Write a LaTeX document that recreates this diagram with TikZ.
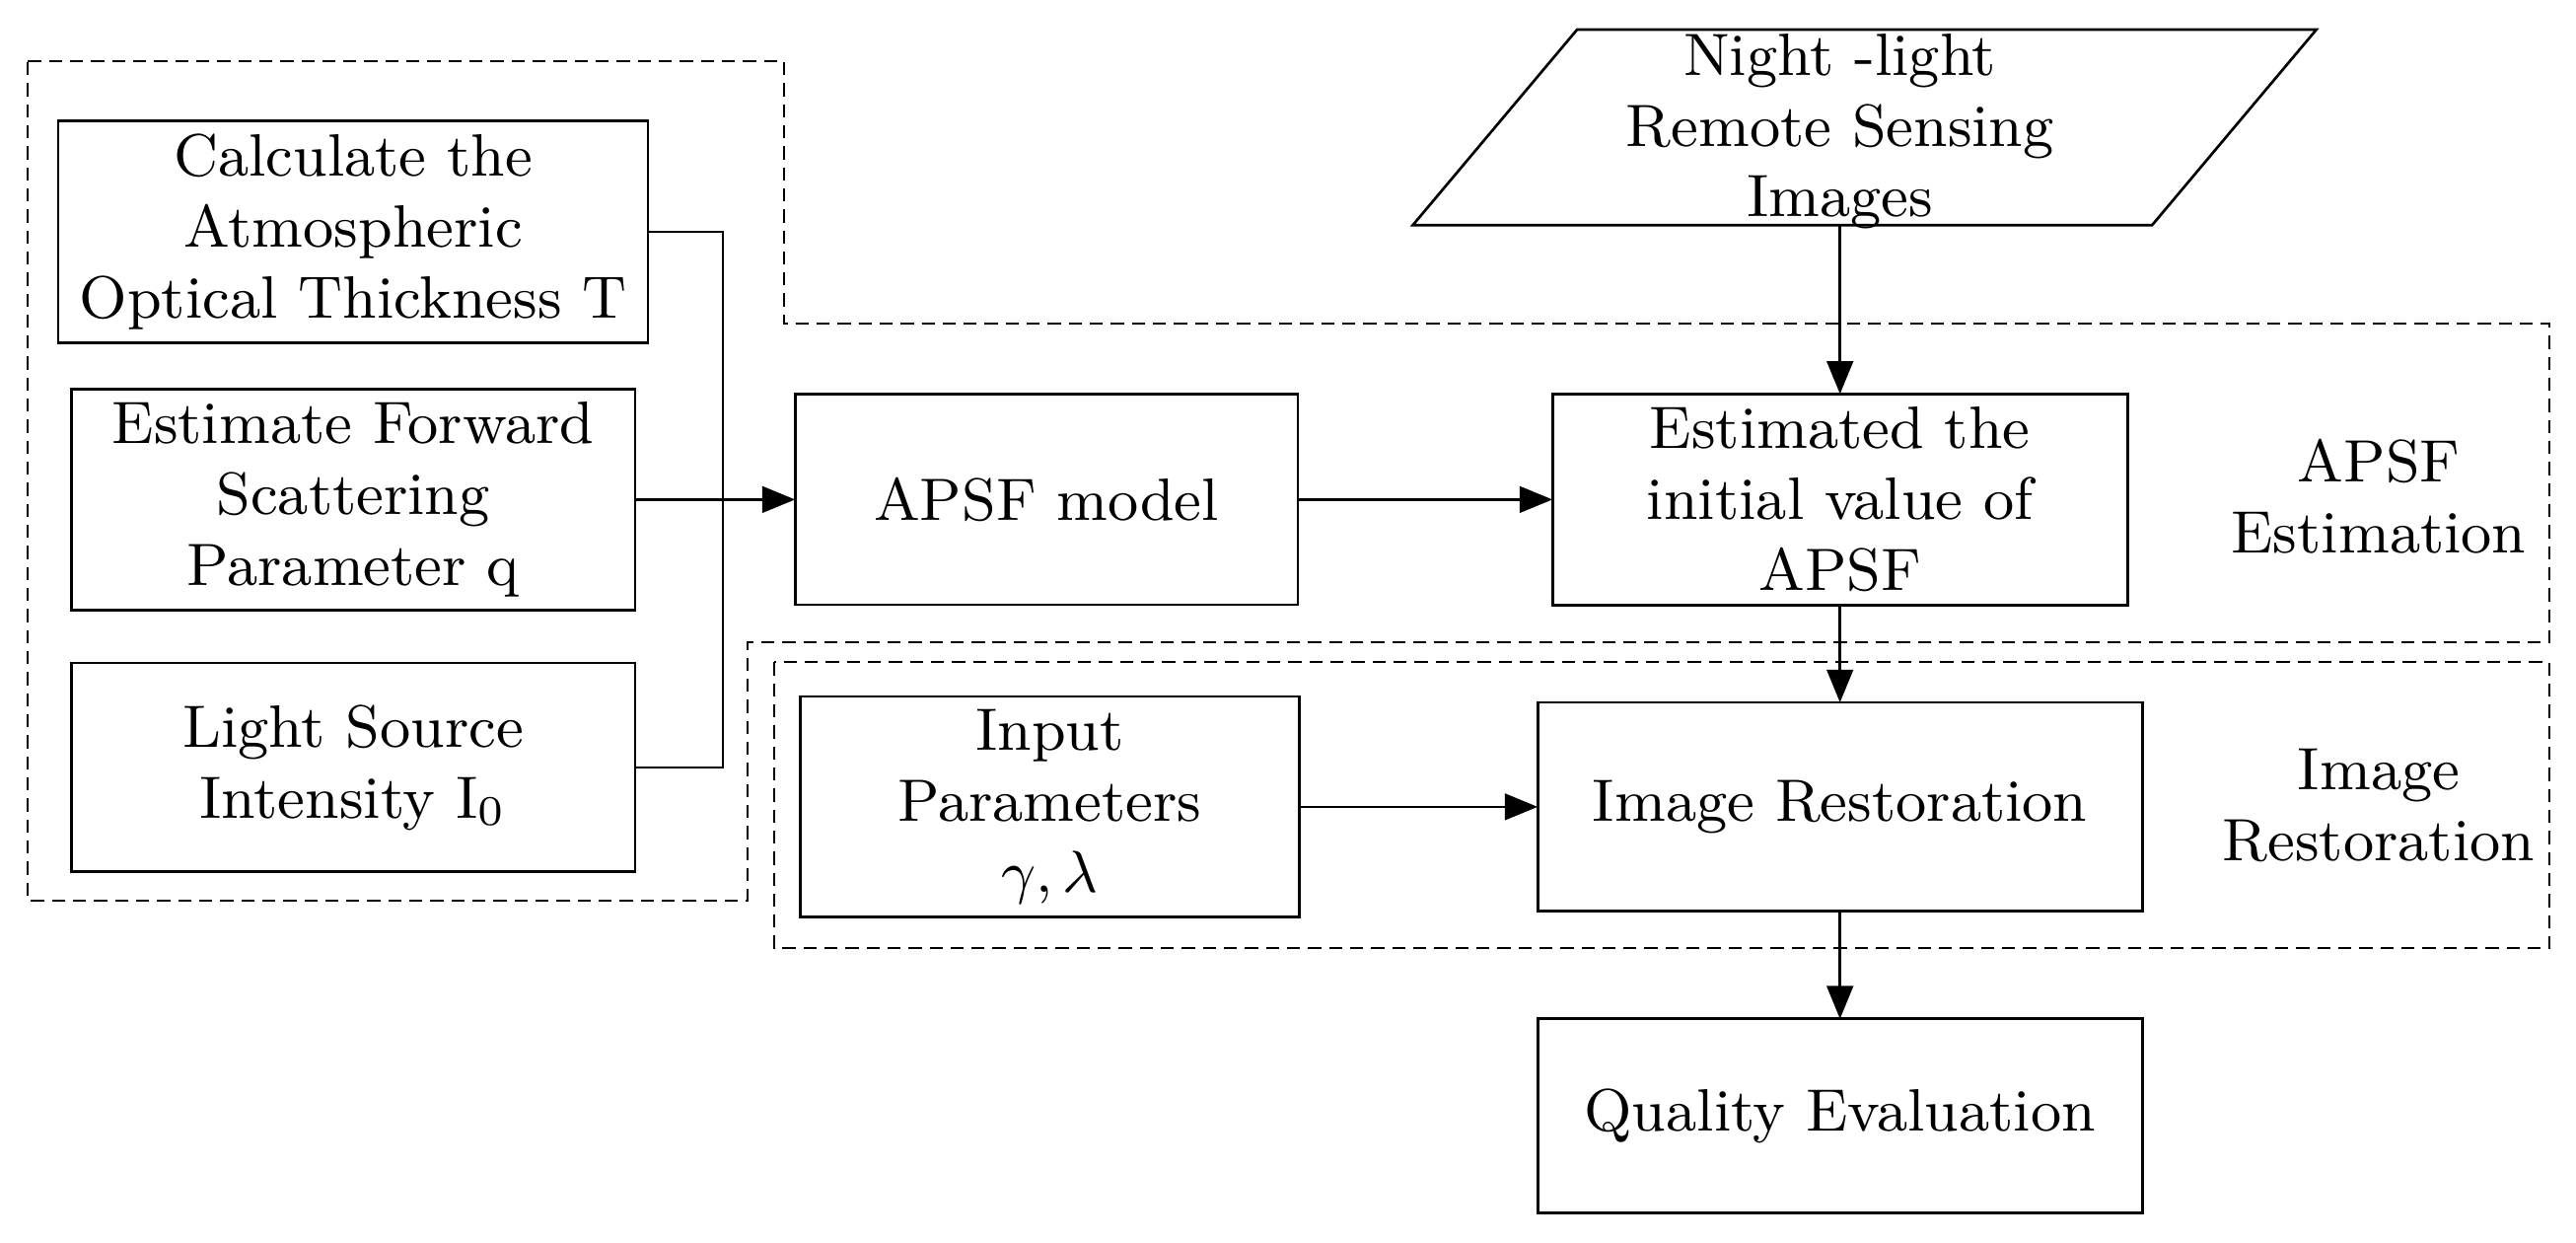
\documentclass[tikz,border=0pt]{standalone}
\usetikzlibrary{arrows.meta}
\begin{document}
\begin{tikzpicture}[x=0.25pt,y=-0.25pt,inner sep=2pt,outer sep=0pt,thin,
	box/.style={draw,align=center,font=\fontsize{9.1}{10.8}\selectfont},
	lbl/.style={align=center,font=\fontsize{9.1}{10.8}\selectfont},
	region/.style={draw,dash pattern=on 2pt off 1.2pt,line width=0.3pt}]
	\useasboundingbox (0,0) rectangle (1568,756);
	% left input boxes
	\node[box,minimum width=359*0.25pt,minimum height=128*0.25pt] (calc) at (215,141) {Calculate the\\Atmospheric\\Optical Thickness T};
	\node[box,minimum width=343*0.25pt,minimum height=128*0.25pt] (fwd) at (215,304) {Estimate Forward\\Scattering\\Parameter q};
	\node[box,minimum width=343*0.25pt,minimum height=127*0.25pt] (src) at (215,467) {Light Source\\Intensity I\textsubscript{0}};
	% main chain
	\node[box,minimum width=306*0.25pt,minimum height=128*0.25pt] (apsf) at (637,304) {APSF model};
	\node[box,minimum width=350*0.25pt,minimum height=128*0.25pt] (init) at (1120,304) {Estimated the\\initial value of\\APSF};
	\node[box,minimum width=304*0.25pt,minimum height=127*0.25pt] (par) at (639,491) {Input\\Parameters\\$\gamma,\lambda$};
	\node[box,minimum width=368*0.25pt,minimum height=127*0.25pt] (rest) at (1120,491) {Image Restoration};
	\node[box,minimum width=368*0.25pt,minimum height=118*0.25pt] (qual) at (1120,679) {Quality Evaluation};
	% data input
	\coordinate (pa) at (860,137);
	\coordinate (pb) at (960,18);
	\coordinate (pc) at (1410,18);
	\coordinate (pd) at (1310,137);
	\draw (pa) -- (pb) -- (pc) -- (pd) -- cycle;
	\node[lbl] (img) at (1120,80) {Night -light\\Remote Sensing\\Images};
	\coordinate (imgb) at (1120,137);
	% regions
	\draw[region] (17,37) -- (477,37) -- (477,197) -- (1552,197) -- (1552,391)
		-- (455,391) -- (455,548) -- (17,548) -- cycle;
	\draw[region] (471,403) rectangle (1552,577);
	\node[lbl] (estlbl) at (1448,302) {APSF\\Estimation};
	\node[lbl] (restlbl) at (1448,490) {Image\\Restoration};
	% connectors
	\coordinate (jt) at (440,141);
	\coordinate (jb) at (440,467);
	\draw (calc.east) -- (jt) -- (jb) -- (src.east);
	\begin{scope}[-{Triangle[length=5pt,width=4pt]}]
	\draw (fwd.east) -- (apsf.west);
	\draw (apsf) -- (init);
	\draw (imgb) -- (init);
	\draw (init) -- (rest);
	\draw (par) -- (rest);
	\draw (rest) -- (qual);
	\end{scope}
\end{tikzpicture}
\end{document}
